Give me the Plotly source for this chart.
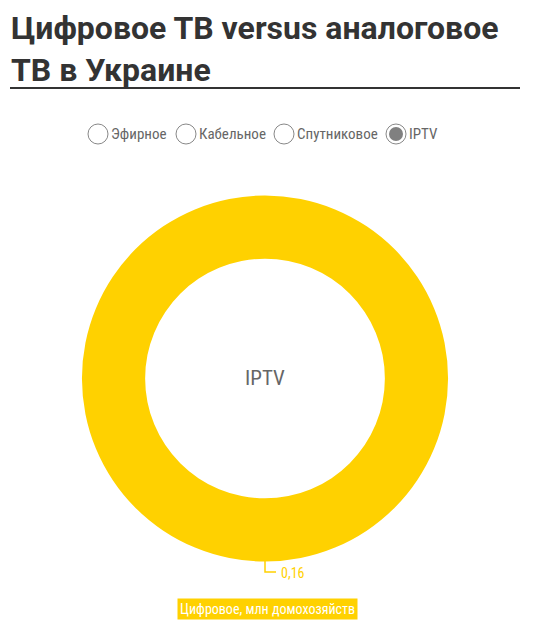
import plotly.graph_objects as go

W, H = 538, 634
OFF = 8  # page body margin
FW, FH = W - OFF, H - OFF

title_lines = ["Цифровое ТВ versus аналоговое", "ТВ в Украине"]
options = ["Эфирное", "Кабельное", "Спутниковое", "IPTV"]
selected = "IPTV"
categories = ["Цифровое, млн домохозяйств"]
values = [0.16]
value_labels = ["0,16"]
YELLOW = "#FFD100"
NARROW = "Liberation Sans Narrow, Roboto Condensed, Arial Narrow, sans-serif"

def px(x):
    return (x - OFF) / FW

def py(y):
    return 1 - (y - OFF) / FH

fig = go.Figure()
fig.add_trace(go.Pie(
    labels=categories, values=values, hole=0.655, sort=False,
    marker=dict(colors=[YELLOW], line=dict(width=0)),
    textinfo="none", hoverinfo="label+value", showlegend=False,
    domain=dict(x=[px(82), px(448)], y=[py(562), py(195)]),
))

annotations = []
shapes = []
# title, one annotation per line
for line, yc in zip(title_lines, [28, 70]):
    annotations.append(dict(
        text="<b>" + line + "</b>", x=px(10), y=py(yc),
        xref="paper", yref="paper", xanchor="left", yanchor="middle", align="left",
        showarrow=False, borderpad=0,
        font=dict(family="Roboto, sans-serif", size=32, color="#333333"),
    ))
shapes.append(dict(type="line", xref="paper", yref="paper",
                   x0=px(10), x1=px(520), y0=py(88), y1=py(88),
                   line=dict(color="#333333", width=2)))

# radio buttons
cx_list = [98, 186, 284, 396]
for cx, opt in zip(cx_list, options):
    shapes.append(dict(type="circle", xref="paper", yref="paper",
                       x0=px(cx - 10), x1=px(cx + 10), y0=py(144), y1=py(124),
                       line=dict(color="#888888", width=1), fillcolor="white"))
    if opt == selected:
        shapes.append(dict(type="circle", xref="paper", yref="paper",
                           x0=px(cx - 7), x1=px(cx + 7), y0=py(141), y1=py(127),
                           line=dict(width=0), fillcolor="#808080"))
    annotations.append(dict(text=opt, x=px(cx + 11), y=py(134), xref="paper", yref="paper",
                            xanchor="left", yanchor="middle", showarrow=False,
                            font=dict(family=NARROW, size=15, color="#666666")))

# centre label
annotations.append(dict(text=selected, x=px(265), y=py(378), xref="paper", yref="paper",
                        showarrow=False, font=dict(family=NARROW, size=21, color="#666666")))

# value label with leader
shapes.append(dict(type="path", xref="paper", yref="paper",
                   path=f"M {px(265)} {py(561)} L {px(265)} {py(572)} L {px(276)} {py(572)}",
                   line=dict(color=YELLOW, width=1.5)))
annotations.append(dict(text=value_labels[0], x=px(279), y=py(573), xref="paper", yref="paper",
                        xanchor="left", yanchor="middle", showarrow=False,
                        font=dict(family=NARROW, size=14, color=YELLOW)))

# legend box
annotations.append(dict(text=categories[0], x=px(267), y=py(609), xref="paper", yref="paper",
                        xanchor="center", yanchor="middle", showarrow=False,
                        bgcolor=YELLOW, borderpad=2,
                        font=dict(family=NARROW, size=14, color="white")))

fig.update_layout(width=FW, height=FH, margin=dict(l=0, r=0, t=0, b=0),
                  paper_bgcolor="white", plot_bgcolor="white",
                  annotations=annotations, shapes=shapes)
fig.write_html("out.html")
